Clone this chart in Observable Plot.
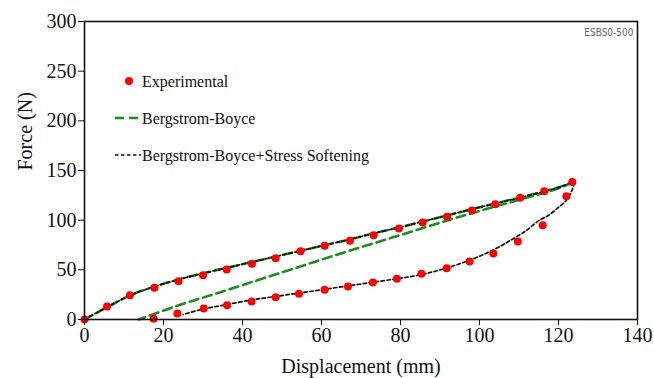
<!DOCTYPE html>
<html>
<head>
<meta charset="utf-8">
<script src="https://cdn.jsdelivr.net/npm/d3@7"></script>
<script src="https://cdn.jsdelivr.net/npm/@observablehq/plot@0.6"></script>
<style>
  html, body { margin: 0; padding: 0; background: #fff; }
  #chart { width: 654px; height: 378px; }
  #chart svg text { font-family: "Liberation Serif", serif; }
  #chart svg text.tag { font-family: "DejaVu Sans Condensed", "DejaVu Sans", sans-serif; }
</style>
</head>
<body>
<div id="chart"></div>
<script>
// Experimental data (loading and unloading)
const expLoadDisp = [0, 5.7, 11.5, 17.7, 23.8, 30.0, 36.0, 42.4, 48.4, 54.7, 60.8, 67.2, 73.2, 79.6, 85.6, 91.8, 98.1, 104.0, 110.3, 116.4, 123.5];
const expLoadForce = [0, 13, 24.5, 32, 38.6, 44.6, 50.3, 56, 61.7, 68.8, 74.2, 79.3, 84.9, 91.6, 97.7, 103.4, 109.8, 116.1, 122.5, 129.2, 138.3];
const expUnloadDisp = [17.5, 23.5, 30.2, 36.1, 42.3, 48.4, 54.3, 60.8, 66.7, 73.0, 79.1, 85.3, 91.7, 97.5, 103.5, 109.7, 116.0, 122.0];
const expUnloadForce = [0.7, 6, 11, 14.4, 18.1, 22.5, 25.9, 29.9, 33.2, 37.3, 41.0, 46, 51.7, 58.4, 66.5, 78.5, 95, 124.2];

// Bergstrom-Boyce model
const bbLoadDisp = [0, 6, 12, 18, 24, 30, 36, 42, 48, 55, 61, 67, 73, 80, 86, 92, 98, 104, 110, 116, 120, 123.5];
const bbLoadForce = [0, 13, 25, 33.5, 40.5, 46.5, 52, 57.5, 63, 69.5, 75, 80.5, 86.5, 93, 99, 105, 111, 116.8, 122.5, 128.5, 133, 138];
const bbUnloadDisp = [123.5, 120, 110, 95, 80, 64.5, 50, 34, 24, 13.7];
const bbUnloadForce = [138, 132, 120.5, 103.5, 85, 66, 47.5, 27, 14.5, 0];

// Bergstrom-Boyce + Stress Softening model
const ssLoadDisp = bbLoadDisp;
const ssLoadForce = bbLoadForce;
const ssUnloadDisp = [124, 123.5, 122, 120, 117.5, 115, 112, 108, 103, 97, 91, 85, 79, 73, 67, 61, 55, 48, 42, 36, 30, 25];
const ssUnloadForce = [138, 131, 120, 113, 105, 99.5, 90, 80, 69, 59, 51, 45, 41, 37.5, 34, 30.5, 27, 23, 19.5, 15, 10.5, 5];

const xTicks = [0, 20, 40, 60, 80, 100, 120, 140];
const yTicks = [0, 50, 100, 150, 200, 250, 300];

const legendItems = ["Experimental", "Bergstrom-Boyce", "Bergstrom-Boyce+Stress Softening"];
const tagText = "ESBS0-500";

const RED = "#ff0000";
const GREEN = "#1f8c1f";

const zip = (xs, ys) => xs.map((x, i) => ({x, y: ys[i]}));

const W = 654, H = 378;
const mL = 84, mR = 17, mT = 21, mB = 59;

const plot = Plot.plot({
  width: W,
  height: H,
  marginLeft: mL,
  marginRight: mR,
  marginTop: mT,
  marginBottom: mB,
  style: {fontSize: "20px", background: "#fff", color: "#111"},
  x: {domain: [0, 140]},
  y: {domain: [0, 300]},
  marks: [
    Plot.line(zip(bbLoadDisp, bbLoadForce), {x: "x", y: "y", stroke: GREEN, strokeWidth: 2.6, strokeDasharray: "9,5", curve: "catmull-rom"}),
    Plot.line(zip(bbUnloadDisp, bbUnloadForce), {x: "x", y: "y", stroke: GREEN, strokeWidth: 2.6, strokeDasharray: "9,5", curve: "catmull-rom"}),
    Plot.line(zip(ssLoadDisp, ssLoadForce), {x: "x", y: "y", stroke: "#111", strokeWidth: 1.7, strokeDasharray: "3.5,2.5", curve: "catmull-rom"}),
    Plot.line(zip(ssUnloadDisp, ssUnloadForce), {x: "x", y: "y", stroke: "#111", strokeWidth: 1.7, strokeDasharray: "3.5,2.5", curve: "catmull-rom"}),
    Plot.dot(zip(expLoadDisp, expLoadForce), {x: "x", y: "y", r: 4, fill: RED}),
    Plot.dot(zip(expUnloadDisp, expUnloadForce), {x: "x", y: "y", r: 4, fill: RED}),
    Plot.frame({stroke: "#111", strokeWidth: 1.6}),
    Plot.axisX({ticks: xTicks, tickSize: 6, tickPadding: 2, label: null, fontSize: 20}),
    Plot.axisY({ticks: yTicks, tickSize: 6, tickPadding: 2, label: null, fontSize: 20}),
    Plot.text(["Displacement (mm)"], {frameAnchor: "bottom", dy: 47, lineAnchor: "middle", fontSize: 20, fill: "#111"}),
    Plot.text(["Force (N)"], {frameAnchor: "left", dx: -59, rotate: -90, lineAnchor: "middle", fontSize: 20, fill: "#111"}),
    Plot.text([tagText], {frameAnchor: "top-right", dx: -4, dy: 11, textAnchor: "end", lineAnchor: "middle", fontSize: 10, fill: "#666", className: "tagmark"})
  ]
});

const svg = d3.select(plot);
svg.selectAll("text").filter(function () { return this.textContent === tagText; }).classed("tag", true);

// Legend drawn inside the plot area
const g = svg.append("g")
  .attr("font-size", 16)
  .attr("text-anchor", "start")
  .attr("fill", "#111");
const lx = mL + 29, tx = mL + 57;
const rows = [mT + 60, mT + 97, mT + 134];
g.append("circle").attr("cx", mL + 45).attr("cy", rows[0]).attr("r", 4).attr("fill", RED);
g.append("line").attr("x1", lx + 2).attr("x2", tx).attr("y1", rows[1]).attr("y2", rows[1])
  .attr("stroke", GREEN).attr("stroke-width", 2.6).attr("stroke-dasharray", "9,5");
g.append("line").attr("x1", lx + 2).attr("x2", tx).attr("y1", rows[2]).attr("y2", rows[2])
  .attr("stroke", "#111").attr("stroke-width", 1.7).attr("stroke-dasharray", "3.5,2.5");
legendItems.forEach((t, i) => {
  g.append("text").attr("x", tx + 1).attr("y", rows[i]).attr("dy", "0.35em").text(t);
});

document.getElementById("chart").appendChild(plot);
</script>
</body>
</html>
